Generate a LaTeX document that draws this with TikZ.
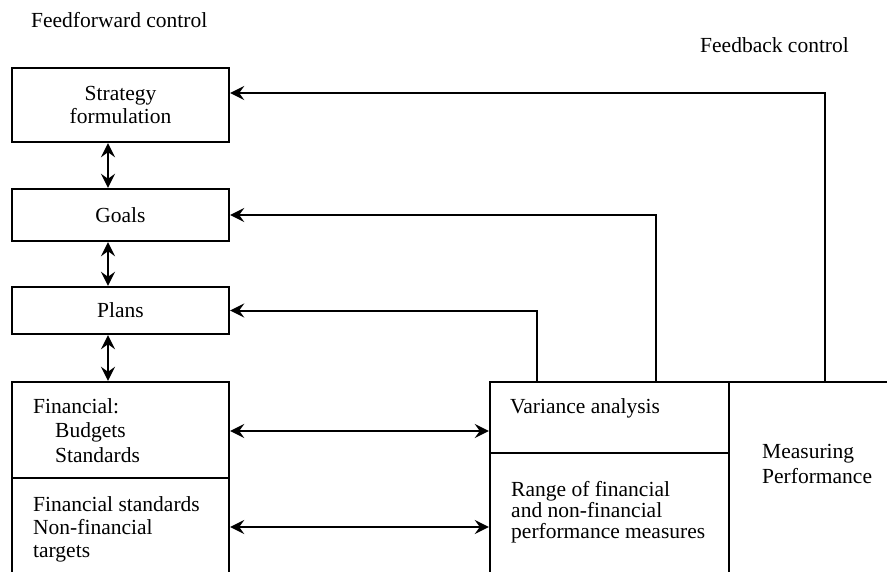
\documentclass[tikz,border=0pt]{standalone}
\usepackage{fontspec}
\setmainfont{Liberation Serif}
\usetikzlibrary{arrows.meta}
\begin{document}
\begin{tikzpicture}[x=1pt,y=-1pt,
  box/.style={draw, line width=2.4pt, rectangle, inner sep=0pt},
  txt/.style={font=\fontsize{21.5}{23.5}\selectfont},
  lbl/.style={txt, anchor=base west, inner sep=0pt},
  head/.tip={Stealth[length=14pt,width=14pt,inset=5pt]},
  arr/.style={line width=2pt, -head},
  dbl/.style={line width=2pt, head-head}]
\useasboundingbox (0,0) rectangle (887,571);
\clip (0,0) rectangle (887,571);
\fill[white] (0,0) rectangle (887,571);

% headings
\node[lbl] (ff) at (31,27) {Feedforward control};
\node[lbl] (fb) at (700,52) {Feedback control};

% feedforward column
\node[box, txt, align=center, minimum width=217pt, minimum height=74pt] (strat) at (120.5,105) {Strategy\\formulation};
\node[box, txt, minimum width=217pt, minimum height=52pt] (goals) at (120.5,215) {Goals};
\node[box, txt, minimum width=217pt, minimum height=47pt] (plans) at (120.5,310.5) {Plans};
\node[box, minimum width=217pt, minimum height=96pt] (finA) at (120.5,430) {};
\node[box, minimum width=217pt, minimum height=122pt] (finB) at (120.5,539) {};

% measurement block
\node[box, minimum width=239pt, minimum height=71pt] (var) at (609.5,417.5) {};
\node[box, minimum width=239pt, minimum height=147pt] (range) at (609.5,526.5) {};
\node[box, minimum width=171pt, minimum height=218pt] (meas) at (814.5,491) {};

% box texts
\node[lbl] (f1) at (33,413) {Financial:};
\node[lbl] (f2) at (55,437) {Budgets};
\node[lbl] (f3) at (55,462) {Standards};
\node[lbl] (g1) at (33,511) {Financial standards};
\node[lbl] (g2) at (33,534) {Non-financial};
\node[lbl] (g3) at (33,557) {targets};
\node[lbl] (v1) at (510,413) {Variance analysis};
\node[lbl] (r1) at (511,496) {Range of financial};
\node[lbl] (r2) at (511,517) {and non-financial};
\node[lbl] (r3) at (511,538) {performance measures};
\node[lbl] (m1) at (762,458) {Measuring};
\node[lbl] (m2) at (762,483) {Performance};

% guide coordinates
\coordinate (ax) at (108,0);
\coordinate (fbS) at (825,93);
\coordinate (fbG) at (656,215);
\coordinate (fbP) at (537,310.5);
\coordinate (h1) at (0,431);
\coordinate (h2) at (0,527);

% feedforward links
\draw[dbl] (strat.south -| ax) -- (goals.north -| ax);
\draw[dbl] (goals.south -| ax) -- (plans.north -| ax);
\draw[dbl] (plans.south -| ax) -- (finA.north -| ax);

% links to measurement
\draw[dbl] (h1 -| finA.east) -- (h1 -| var.west);
\draw[dbl] (h2 -| finB.east) -- (h2 -| range.west);

% feedback loops
\draw[arr] (meas.north -| fbS) -- (fbS) -- (strat.east |- fbS);
\draw[arr] (var.north -| fbG) -- (fbG) -- (goals.east |- fbG);
\draw[arr] (var.north -| fbP) -- (fbP) -- (plans.east |- fbP);
\end{tikzpicture}
\end{document}
